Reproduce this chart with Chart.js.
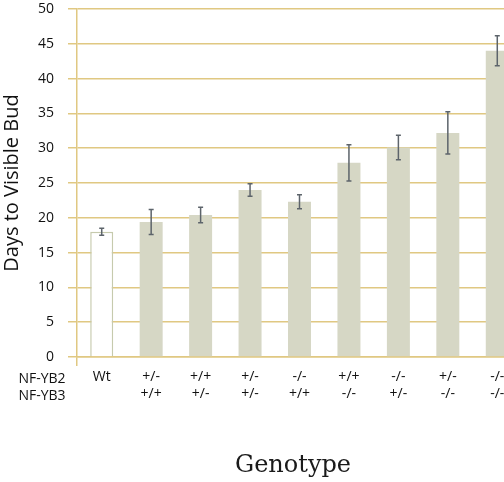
<!DOCTYPE html>
<html>
<head>
<meta charset="utf-8">
<script src="https://cdn.jsdelivr.net/npm/chart.js@4/dist/chart.umd.min.js"></script>
<style>
    html, body { margin: 0; padding: 0; background: #fff; overflow: hidden; }
    #wrap { position: relative; width: 522px; height: 482px; }
</style>
</head>
<body>
<div id="wrap"><canvas id="bud-chart"></canvas></div>
<script>
// genotype of each column, two rows under the axis
var yb2Labels = ['Wt', '+/-', '+/+', '+/-', '-/-', '+/+', '-/-', '+/-', '-/-'];
var yb3Labels = ['', '+/+', '+/-', '+/-', '+/+', '-/-', '+/-', '-/-', '-/-'];
var rowNames = ['NF-YB2', 'NF-YB3'];

// mean days to visible bud and error
var daysToBud = [18.0, 19.4, 20.4, 24.0, 22.3, 27.9, 30.1, 32.2, 44.0];
var daysErr = [0.5, 1.8, 1.1, 0.9, 1.0, 2.6, 1.75, 3.05, 2.15];

var yTicks = [0, 5, 10, 15, 20, 25, 30, 35, 40, 45, 50];

const gold = '#e0c882';
const barFill = '#d6d7c5';
const fontFamily = '"Open Sans", sans-serif';

var labels = yb2Labels.map(function(v, i) { return [v, yb3Labels[i]]; });

// draws the error whiskers on top of the bars
const errorBars = {
    id: 'errorBars',
    afterDatasetsDraw: function(chart) {
        var c = chart.ctx, y = chart.scales.y;
        var meta = chart.getDatasetMeta(0);
        c.save();
        c.strokeStyle = '#5d646b';
        c.lineWidth = 1.5;
        meta.data.forEach(function(bar, i) {
            var v = daysToBud[i], e = daysErr[i];
            var top = y.getPixelForValue(v + e), bot = y.getPixelForValue(v - e);
            c.beginPath();
            c.moveTo(bar.x, top); c.lineTo(bar.x, bot);
            c.moveTo(bar.x - 2.5, top); c.lineTo(bar.x + 2.5, top);
            c.moveTo(bar.x - 2.5, bot); c.lineTo(bar.x + 2.5, bot);
            c.stroke();
        });
        c.restore();
    }
};

// row names for the two genotype lines and the axis title
const extraText = {
    id: 'extraText',
    afterDraw: function(chart) {
        var c = chart.ctx, x = chart.scales.x;
        c.save();
        c.fillStyle = '#111';
        c.font = '14px ' + fontFamily;
        c.textAlign = 'center';
        c.textBaseline = 'middle';
        c.fillText(rowNames[0], 42, x.top + 22);
        c.fillText(rowNames[1], 42, x.top + 39);
        c.font = '24px "DejaVu Serif", serif';
        c.fillStyle = '#1a1a1a';
        c.fillText('Genotype', 293, 466);
        c.restore();
    }
};

var ctx = document.getElementById('bud-chart');

new Chart(ctx, {
    type: 'bar',
    data: {
        labels: labels,
        datasets: [{
            data: daysToBud,
            backgroundColor: daysToBud.map(function(v, i) { return i === 0 ? '#ffffff' : barFill; }),
            borderColor: daysToBud.map(function(v, i) { return i === 0 ? '#c6caad' : barFill; }),
            borderWidth: daysToBud.map(function(v, i) { return i === 0 ? 1.5 : 0; }),
            categoryPercentage: 1,
            barPercentage: 0.465
        }]
    },
    options: {
        responsive: true,
        maintainAspectRatio: false,
        animation: false,
        layout: { padding: 0 },
        plugins: {
            legend: { display: false },
            tooltip: { enabled: false }
        },
        scales: {
            x: {
                afterFit: function(s) { s.height = 125; },
                border: { color: gold, width: 1.5 },
                grid: {
                    drawOnChartArea: false,
                    tickLength: 9,
                    lineWidth: 1.5,
                    color: function(c) { return c.index === 0 ? gold : 'rgba(0,0,0,0)'; }
                },
                ticks: {
                    color: '#111',
                    font: { family: fontFamily, size: 14 },
                    padding: 3,
                    maxRotation: 0,
                    autoSkip: false
                }
            },
            y: {
                min: 0,
                max: 50,
                afterFit: function(s) { s.width = 77; s.paddingTop = 9; s.paddingBottom = 0; },
                afterBuildTicks: function(s) { s.ticks = yTicks.map(function(v) { return { value: v }; }); },
                border: { color: gold, width: 1.5 },
                grid: { color: gold, lineWidth: 1.5, tickLength: 9 },
                title: {
                    display: true,
                    text: 'Days to Visible Bud',
                    color: '#111',
                    font: { family: fontFamily, size: 20 },
                    padding: { top: 0, bottom: 0 }
                },
                ticks: {
                    color: '#111',
                    font: { family: fontFamily, size: 14 },
                    padding: 14
                }
            }
        }
    },
    plugins: [errorBars, extraText]
});
</script>
</body>
</html>
